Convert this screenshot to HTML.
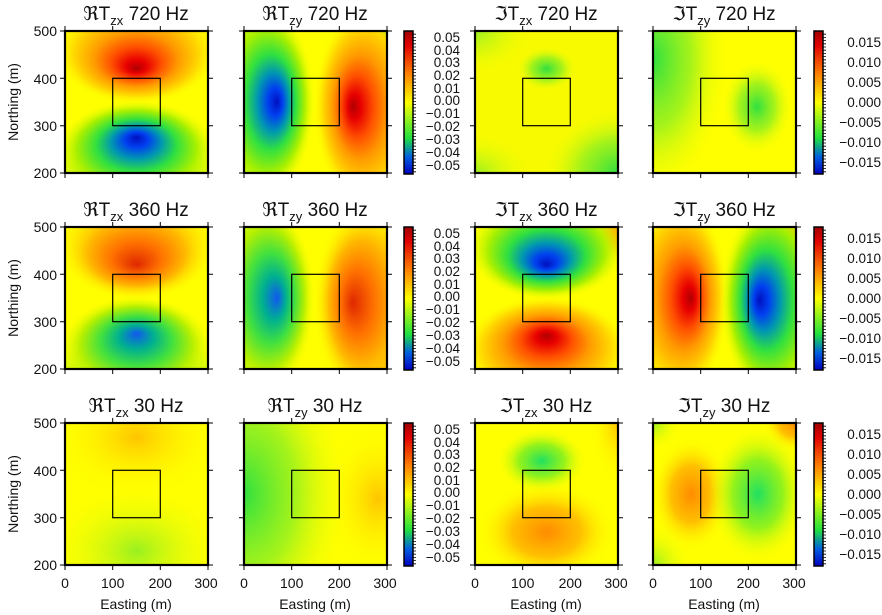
<!DOCTYPE html>
<html><head><meta charset="utf-8"><style>
html,body{margin:0;padding:0;background:#fff;width:882px;height:615px;overflow:hidden;}
svg{display:block;font-family:"Liberation Sans","DejaVu Sans",sans-serif;}
.t{font-size:19px;text-anchor:middle;fill:#111;}
.k{font-size:14px;fill:#111;}
.c{font-size:13.5px;fill:#111;text-anchor:end;}
</style></head><body>
<svg width="882" height="615" viewBox="0 0 882 615" xmlns="http://www.w3.org/2000/svg">
<defs>
<radialGradient id="R1"><stop offset="0" stop-color="#b00000"/><stop offset=".12" stop-color="#e80000"/><stop offset=".3" stop-color="#ff5000"/><stop offset=".5" stop-color="#ff9a00"/><stop offset=".75" stop-color="#ffd800"/><stop offset="1" stop-color="#ffff00" stop-opacity="0"/></radialGradient>
<radialGradient id="R2"><stop offset="0" stop-color="#e02800"/><stop offset=".3" stop-color="#ff7000"/><stop offset=".6" stop-color="#ffb800"/><stop offset="1" stop-color="#ffff00" stop-opacity="0"/></radialGradient>
<radialGradient id="B1"><stop offset="0" stop-color="#0010c0"/><stop offset=".14" stop-color="#0040f0"/><stop offset=".3" stop-color="#0098b0"/><stop offset=".48" stop-color="#30e040"/><stop offset=".72" stop-color="#a8f000"/><stop offset="1" stop-color="#ffff00" stop-opacity="0"/></radialGradient>
<radialGradient id="B2"><stop offset="0" stop-color="#1058f0"/><stop offset=".22" stop-color="#00b090"/><stop offset=".45" stop-color="#40e040"/><stop offset=".72" stop-color="#b8f000"/><stop offset="1" stop-color="#ffff00" stop-opacity="0"/></radialGradient>
<radialGradient id="RT1" href="#R1" fy=".674"/><radialGradient id="RT2" href="#R2" fy=".674"/>
<radialGradient id="BB1" href="#B1" fy=".348"/><radialGradient id="BB2" href="#B2" fy=".348"/>
<radialGradient id="RB1" href="#R1" fy=".348"/><radialGradient id="BT1" href="#B1" fy=".674"/>
<radialGradient id="BL1" href="#B1" fx=".636"/><radialGradient id="BL2" href="#B2" fx=".636"/>
<radialGradient id="RR1" href="#R1" fx=".36"/><radialGradient id="RR2" href="#R2" fx=".36"/>
<radialGradient id="RL1" href="#R1" fx=".636"/><radialGradient id="BR1" href="#B1" fx=".36"/>
<radialGradient id="G"><stop offset="0" stop-color="#30e040"/><stop offset=".5" stop-color="#90f020" stop-opacity=".8"/><stop offset="1" stop-color="#ffff00" stop-opacity="0"/></radialGradient>
<radialGradient id="G3"><stop offset="0" stop-color="#20e060"/><stop offset=".5" stop-color="#80f020" stop-opacity=".85"/><stop offset="1" stop-color="#ffff00" stop-opacity="0"/></radialGradient>
<radialGradient id="G2"><stop offset="0" stop-color="#98f020"/><stop offset="1" stop-color="#ffff00" stop-opacity="0"/></radialGradient>
<radialGradient id="O"><stop offset="0" stop-color="#ff8c00"/><stop offset=".5" stop-color="#ffc000"/><stop offset="1" stop-color="#ffff00" stop-opacity="0"/></radialGradient>
<radialGradient id="O2"><stop offset="0" stop-color="#ffc400"/><stop offset="1" stop-color="#ffff00" stop-opacity="0"/></radialGradient>
<linearGradient id="CB" x1="0" y1="0" x2="0" y2="1"><stop offset="0" stop-color="#a00000"/><stop offset=".1" stop-color="#e00000"/><stop offset=".3" stop-color="#ff8000"/><stop offset=".5" stop-color="#ffff00"/><stop offset=".64" stop-color="#80f020"/><stop offset=".75" stop-color="#20e040"/><stop offset=".88" stop-color="#0060e0"/><stop offset="1" stop-color="#0000c0"/></linearGradient>
<g id="fr" fill="none" stroke="#000">
<path stroke-width="1" d="M0 0v-5M47.7 0v-5M95.3 0v-5M143 0v-5M0 142v5M47.7 142v5M95.3 142v5M143 142v5M0 0h-5M0 47.3h-5M0 94.7h-5M0 142h-5M143 0h5M143 47.3h5M143 94.7h5M143 142h5"/>
<rect x="0" y="0" width="143" height="142" stroke-width="2.2"/>
<rect x="47.7" y="47.3" width="47.6" height="47.4" stroke-width="1.2"/>
</g>
<g id="cb">
<rect x="0" y="0" width="9" height="143" fill="url(#CB)" stroke="#000" stroke-width="1.5"/>
<path stroke="#000" stroke-width=".8" d="M9 3.2h3M9 6.4h3M9 9.6h3M9 12.8h3M9 16h3M9 19.2h3M9 22.4h3M9 25.6h3M9 28.8h3M9 32h3M9 35.2h3M9 38.4h3M9 41.6h3M9 44.8h3M9 48h3M9 51.2h3M9 54.4h3M9 57.6h3M9 60.8h3M9 64h3M9 67.2h3M9 70.4h3M9 73.6h3M9 76.8h3M9 80h3M9 83.2h3M9 86.4h3M9 89.6h3M9 92.8h3M9 96h3M9 99.2h3M9 102.4h3M9 105.6h3M9 108.8h3M9 112h3M9 115.2h3M9 118.4h3M9 121.6h3M9 124.8h3M9 128h3M9 131.2h3M9 134.4h3M9 137.6h3M9 140.8h3"/>
</g>
<g id="cl1" class="c">
<text x="460" y="42">0.05</text><text x="460" y="55">0.04</text><text x="460" y="67">0.03</text><text x="460" y="80">0.02</text><text x="460" y="93">0.01</text><text x="460" y="105">0.00</text><text x="460" y="118">−0.01</text><text x="460" y="131">−0.02</text><text x="460" y="144">−0.03</text><text x="460" y="157">−0.04</text><text x="460" y="170">−0.05</text>
</g>
<g id="cl2" class="c">
<text x="881" y="47">0.015</text><text x="881" y="67">0.010</text><text x="881" y="87">0.005</text><text x="881" y="107">0.000</text><text x="881" y="127">−0.005</text><text x="881" y="147">−0.010</text><text x="881" y="167">−0.015</text>
</g>
</defs>

<!-- ROW 1 -->
<svg x="65" y="31" width="143" height="142" viewBox="0 0 300 300" preserveAspectRatio="none"><rect width="300" height="300" fill="#ffff00"/>
<ellipse cx="150" cy="340" rx="260" ry="130" fill="url(#G)"/><ellipse cx="150" cy="-30" rx="240" ry="120" fill="url(#O2)"/>
<ellipse cx="150" cy="40" rx="175" ry="115" fill="url(#RT1)"/><ellipse cx="150" cy="260" rx="175" ry="115" fill="url(#BB1)"/></svg>
<svg x="244" y="31" width="143" height="142" viewBox="0 0 300 300" preserveAspectRatio="none"><rect width="300" height="300" fill="#ffff00"/>
<ellipse cx="-20" cy="150" rx="150" ry="300" fill="url(#G)"/><ellipse cx="320" cy="200" rx="130" ry="260" fill="url(#O)"/><ellipse cx="300" cy="0" rx="80" ry="55" fill="url(#G)"/>
<ellipse cx="40" cy="150" rx="110" ry="210" fill="url(#BL1)"/><ellipse cx="260" cy="160" rx="115" ry="220" fill="url(#RR1)"/></svg>
<svg x="475" y="31" width="143" height="142" viewBox="0 0 300 300" preserveAspectRatio="none"><rect width="300" height="300" fill="#f8fa00"/>
<ellipse cx="150" cy="80" rx="65" ry="48" fill="url(#G)"/><ellipse cx="300" cy="300" rx="160" ry="140" fill="url(#G)"/><ellipse cx="0" cy="0" rx="130" ry="100" fill="url(#G2)"/><ellipse cx="0" cy="300" rx="130" ry="90" fill="url(#G2)"/></svg>
<svg x="653" y="31" width="143" height="142" viewBox="0 0 300 300" preserveAspectRatio="none"><rect width="300" height="300" fill="#ffff00"/>
<ellipse cx="0" cy="60" rx="160" ry="290" fill="url(#G)"/><ellipse cx="218" cy="160" rx="75" ry="100" fill="url(#G)"/></svg>

<!-- ROW 2 -->
<svg x="65" y="227" width="143" height="142" viewBox="0 0 300 300" preserveAspectRatio="none"><rect width="300" height="300" fill="#ffff00"/>
<ellipse cx="150" cy="340" rx="260" ry="130" fill="url(#G)"/><ellipse cx="150" cy="-30" rx="240" ry="120" fill="url(#O2)"/>
<ellipse cx="150" cy="40" rx="170" ry="115" fill="url(#RT2)"/><ellipse cx="150" cy="260" rx="165" ry="115" fill="url(#BB2)"/></svg>
<svg x="244" y="227" width="143" height="142" viewBox="0 0 300 300" preserveAspectRatio="none"><rect width="300" height="300" fill="#ffff00"/>
<ellipse cx="-20" cy="150" rx="150" ry="300" fill="url(#G)"/><ellipse cx="320" cy="200" rx="130" ry="260" fill="url(#O)"/>
<ellipse cx="40" cy="150" rx="110" ry="210" fill="url(#BL2)"/><ellipse cx="260" cy="160" rx="115" ry="220" fill="url(#RR2)"/></svg>
<svg x="475" y="227" width="143" height="142" viewBox="0 0 300 300" preserveAspectRatio="none"><rect width="300" height="300" fill="#ffff00"/>
<ellipse cx="300" cy="0" rx="60" ry="80" fill="url(#O)"/>
<ellipse cx="150" cy="40" rx="170" ry="115" fill="url(#BT1)"/><ellipse cx="150" cy="265" rx="180" ry="120" fill="url(#RB1)"/></svg>
<svg x="653" y="227" width="143" height="142" viewBox="0 0 300 300" preserveAspectRatio="none"><rect width="300" height="300" fill="#ffff00"/>
<ellipse cx="300" cy="0" rx="90" ry="70" fill="url(#O)"/>
<ellipse cx="50" cy="150" rx="110" ry="220" fill="url(#RL1)"/><ellipse cx="255" cy="155" rx="115" ry="220" fill="url(#BR1)"/></svg>

<!-- ROW 3 -->
<svg x="65" y="423" width="143" height="142" viewBox="0 0 300 300" preserveAspectRatio="none"><rect width="300" height="300" fill="#ffff00"/>
<ellipse cx="150" cy="30" rx="180" ry="130" fill="url(#O2)"/><ellipse cx="150" cy="270" rx="190" ry="140" fill="url(#G2)"/></svg>
<svg x="244" y="423" width="143" height="142" viewBox="0 0 300 300" preserveAspectRatio="none"><rect width="300" height="300" fill="#ffff00"/>
<ellipse cx="0" cy="150" rx="220" ry="330" fill="url(#G)"/><ellipse cx="280" cy="160" rx="110" ry="160" fill="url(#O2)"/></svg>
<svg x="475" y="423" width="143" height="142" viewBox="0 0 300 300" preserveAspectRatio="none"><rect width="300" height="300" fill="#ffff00"/>
<ellipse cx="300" cy="0" rx="60" ry="130" fill="url(#O2)"/>
<ellipse cx="140" cy="80" rx="95" ry="70" fill="url(#G3)"/><ellipse cx="150" cy="230" rx="145" ry="105" fill="url(#O)"/></svg>
<svg x="653" y="423" width="143" height="142" viewBox="0 0 300 300" preserveAspectRatio="none"><rect width="300" height="300" fill="#ffff00"/>
<ellipse cx="300" cy="0" rx="70" ry="60" fill="url(#O)"/><ellipse cx="0" cy="300" rx="80" ry="90" fill="url(#G2)"/><ellipse cx="0" cy="0" rx="60" ry="60" fill="url(#G2)"/>
<ellipse cx="80" cy="150" rx="85" ry="120" fill="url(#O)"/><ellipse cx="220" cy="150" rx="105" ry="145" fill="url(#G3)"/></svg>

<!-- frames -->
<use href="#fr" x="65" y="31"/><use href="#fr" x="244" y="31"/><use href="#fr" x="475" y="31"/><use href="#fr" x="653" y="31"/>
<use href="#fr" x="65" y="227"/><use href="#fr" x="244" y="227"/><use href="#fr" x="475" y="227"/><use href="#fr" x="653" y="227"/>
<use href="#fr" x="65" y="423"/><use href="#fr" x="244" y="423"/><use href="#fr" x="475" y="423"/><use href="#fr" x="653" y="423"/>

<!-- colorbars -->
<use href="#cb" x="404" y="31"/><use href="#cb" x="404" y="227"/><use href="#cb" x="404" y="423"/>
<use href="#cb" x="814" y="31"/><use href="#cb" x="814" y="227"/><use href="#cb" x="814" y="423"/>
<use href="#cl1"/><use href="#cl1" y="196"/><use href="#cl1" y="392"/>
<use href="#cl2"/><use href="#cl2" y="196"/><use href="#cl2" y="392"/>

<!-- titles -->
<g class="t">
<text x="136" y="20">ℜT<tspan font-size="13" dy="5">zx</tspan><tspan dy="-5"> 720 Hz</tspan></text>
<text x="315" y="20">ℜT<tspan font-size="13" dy="5">zy</tspan><tspan dy="-5"> 720 Hz</tspan></text>
<text x="546" y="20">ℑT<tspan font-size="13" dy="5">zx</tspan><tspan dy="-5"> 720 Hz</tspan></text>
<text x="724" y="20">ℑT<tspan font-size="13" dy="5">zy</tspan><tspan dy="-5"> 720 Hz</tspan></text>
<text x="136" y="216">ℜT<tspan font-size="13" dy="5">zx</tspan><tspan dy="-5"> 360 Hz</tspan></text>
<text x="315" y="216">ℜT<tspan font-size="13" dy="5">zy</tspan><tspan dy="-5"> 360 Hz</tspan></text>
<text x="546" y="216">ℑT<tspan font-size="13" dy="5">zx</tspan><tspan dy="-5"> 360 Hz</tspan></text>
<text x="724" y="216">ℑT<tspan font-size="13" dy="5">zy</tspan><tspan dy="-5"> 360 Hz</tspan></text>
<text x="136" y="412">ℜT<tspan font-size="13" dy="5">zx</tspan><tspan dy="-5"> 30 Hz</tspan></text>
<text x="315" y="412">ℜT<tspan font-size="13" dy="5">zy</tspan><tspan dy="-5"> 30 Hz</tspan></text>
<text x="546" y="412">ℑT<tspan font-size="13" dy="5">zx</tspan><tspan dy="-5"> 30 Hz</tspan></text>
<text x="724" y="412">ℑT<tspan font-size="13" dy="5">zy</tspan><tspan dy="-5"> 30 Hz</tspan></text>
</g>

<!-- y labels -->
<g class="k" text-anchor="end">
<text x="57" y="36">500</text><text x="57" y="84">400</text><text x="57" y="131">300</text><text x="57" y="178">200</text>
<text x="57" y="232">500</text><text x="57" y="280">400</text><text x="57" y="327">300</text><text x="57" y="374">200</text>
<text x="57" y="428">500</text><text x="57" y="476">400</text><text x="57" y="523">300</text><text x="57" y="570">200</text>
</g>
<g class="k" text-anchor="middle">
<text transform="translate(18,102) rotate(-90)">Northing (m)</text>
<text transform="translate(18,298) rotate(-90)">Northing (m)</text>
<text transform="translate(18,494) rotate(-90)">Northing (m)</text>
<text x="65" y="588">0</text><text x="112.7" y="588">100</text><text x="160.3" y="588">200</text><text x="206" y="588">300</text>
<text x="244" y="588">0</text><text x="291.7" y="588">100</text><text x="339.3" y="588">200</text><text x="385" y="588">300</text>
<text x="475" y="588">0</text><text x="522.7" y="588">100</text><text x="570.3" y="588">200</text><text x="616" y="588">300</text>
<text x="653" y="588">0</text><text x="700.7" y="588">100</text><text x="748.3" y="588">200</text><text x="794" y="588">300</text>
<text x="136" y="609">Easting (m)</text><text x="315" y="609">Easting (m)</text><text x="546" y="609">Easting (m)</text><text x="724" y="609">Easting (m)</text>
</g>
</svg>
</body></html>
